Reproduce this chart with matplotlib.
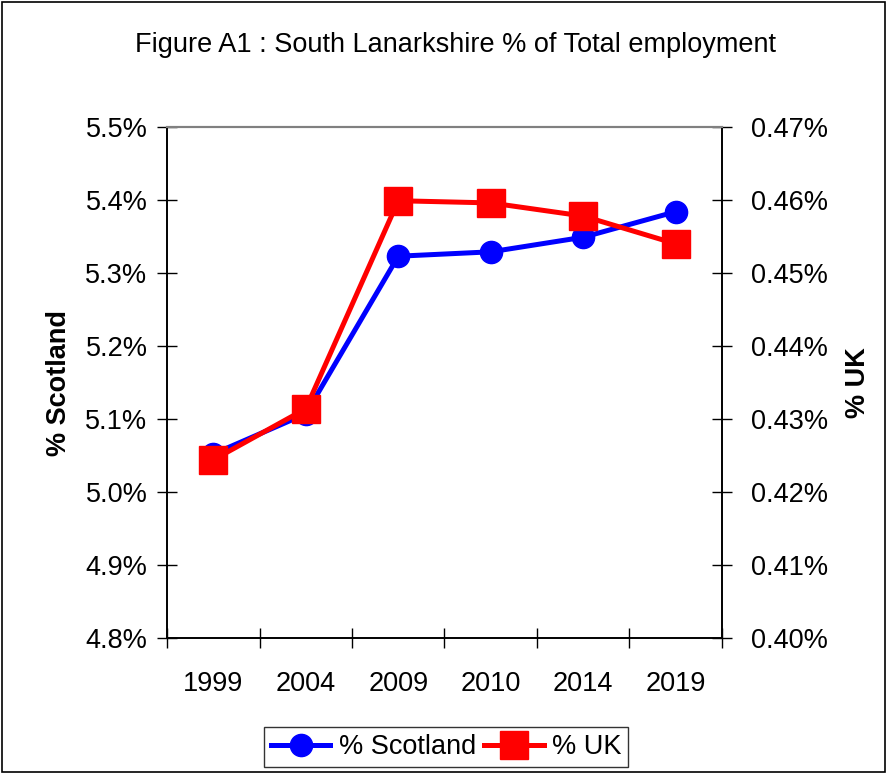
import matplotlib.pyplot as plt
from matplotlib.patches import Rectangle

plt.rcParams['font.family'] = ['Liberation Sans', 'DejaVu Sans']

years = ['1999', '2004', '2009', '2010', '2014', '2019']
scotland = [5.052, 5.107, 5.323, 5.329, 5.349, 5.384]
uk = [0.4244, 0.4314, 0.4599, 0.4596, 0.4578, 0.4540]

left_ticks = [4.8, 4.9, 5.0, 5.1, 5.2, 5.3, 5.4, 5.5]
right_ticks = [0.40, 0.41, 0.42, 0.43, 0.44, 0.45, 0.46, 0.47]

fig = plt.figure(figsize=(8.87, 7.74), dpi=100)
ax = fig.add_axes([167/887, 136/774, 555/887, 511/774])
ax2 = ax.twinx()

x = list(range(len(years)))
l1, = ax.plot(x, scotland, color='#0000ff', lw=3.6, marker='o', ms=16, label='% Scotland')
l2, = ax2.plot(x, uk, color='#ff0000', lw=3.6, marker='s', ms=20, label='% UK')

ax.set_xlim(-0.5, len(years) - 0.5)
ax.set_ylim(4.8, 5.5)
ax2.set_ylim(0.40, 0.47)
ax.set_yticks(left_ticks)
ax.set_yticklabels(['%.1f%%' % v for v in left_ticks])
ax2.set_yticks(right_ticks)
ax2.set_yticklabels(['%.2f%%' % v for v in right_ticks])
ax.set_xticks(x)
ax.set_xticklabels(years)
ax.set_xticks([i - 0.5 for i in x] + [len(years) - 0.5], minor=True)
ax.tick_params(axis='x', which='major', length=0, labelsize=19.5, pad=24)
ax.tick_params(axis='x', which='minor', length=14, direction='inout', width=1)
ax.tick_params(axis='y', direction='inout', length=14, width=1, labelsize=19.5, pad=7)
ax2.tick_params(axis='y', direction='inout', length=14, width=1, labelsize=19.5, pad=14)

for a in (ax, ax2):
    a.spines['top'].set_color('#808080')
    a.spines['top'].set_linewidth(1.5)
    for s in ('left', 'right', 'bottom'):
        a.spines[s].set_linewidth(1.2)

ax.set_ylabel('% Scotland', fontsize=19.5, fontweight='bold', labelpad=10)
ax2.set_ylabel('% UK', fontsize=19.5, fontweight='bold', labelpad=12, rotation=90)

fig.text(456/887, 1 - 45/774, 'Figure A1 : South Lanarkshire % of Total employment',
         ha='center', va='center', fontsize=19.5)

leg = fig.legend([l1, l2], ['% Scotland', '% UK'], loc='center', ncol=2,
                 bbox_to_anchor=(446/887, 1 - 747/774), fontsize=19.5, frameon=True,
                 fancybox=False, edgecolor='black', handlelength=2.2,
                 columnspacing=0.3, handletextpad=0.3, borderpad=0.25)
leg.get_frame().set_linewidth(1.0)

fig.patches.append(Rectangle((0.002, 0.002), 0.996, 0.996, transform=fig.transFigure,
                             fill=False, edgecolor='black', lw=1.2))

fig.savefig('out.png', dpi=100)
